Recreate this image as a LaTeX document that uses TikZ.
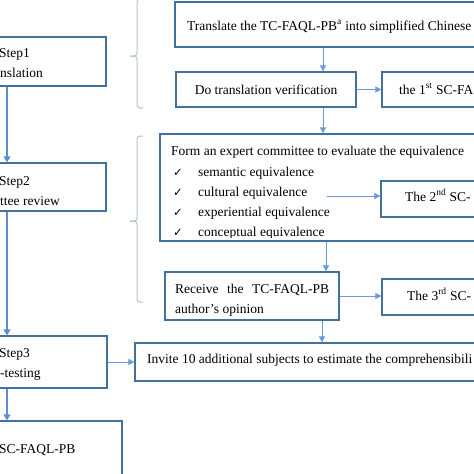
\documentclass[tikz,border=0pt]{standalone}
\usepackage{fontspec}
\setmainfont{Liberation Serif}
\newfontfamily\symfnt{DejaVu Sans}
\usetikzlibrary{arrows.meta}
\definecolor{boxc}{HTML}{41719C}
\definecolor{arrc}{HTML}{5B8FD0}
\definecolor{arrs}{HTML}{6A9BD6}
\definecolor{bracec}{HTML}{B4C3D4}
\begin{document}
\begin{tikzpicture}[x=1pt,y=-1pt,
  box/.style={draw=boxc,line width=1.3pt,rectangle,inner sep=0pt,fill=white},
  txt/.style={inner sep=0pt,anchor=base west,font=\fontsize{13.5}{16}\selectfont},
  ctxt/.style={inner sep=0pt,anchor=base,font=\fontsize{13.5}{16}\selectfont},
  chk/.style={inner sep=0pt,anchor=base west,font=\symfnt\fontsize{11.5}{12}\selectfont},
  bigarrow/.style={draw=arrc,line width=1.8pt,-{Triangle[width=7pt,length=6pt]}},
  smallarrow/.style={draw=arrs,line width=1pt,-{Triangle[width=6pt,length=6pt]}},
  bracket/.style={draw=bracec,line width=1pt,rounded corners=3pt}]
\useasboundingbox (0,0) rectangle (474,474);
\clip (0,0) rectangle (474,474);
\fill[white] (0,0) rectangle (474,474);

% left column boxes
\node[box,minimum width=186pt,minimum height=49pt] (step1) at (13,61.5) {};
\node[box,minimum width=186pt,minimum height=48pt] (step2) at (13,187) {};
\node[box,minimum width=187pt,minimum height=52pt] (step3) at (13.5,362) {};
\node[box,minimum width=202pt,minimum height=89pt] (final) at (21,465.5) {};

\node[txt] (s1a) at (-1,57) {Step1};
\node[txt] (s1b) at (0,77) {nslation};
\node[txt] (s2a) at (-1,185) {Step2};
\node[txt] (s2b) at (0,205) {ttee review};
\node[txt] (s3a) at (-1,357) {Step3};
\node[txt] (s3b) at (0,377) {-testing};
\node[txt] (fin) at (-1,453) {SC-FAQL-PB};

% right column boxes
\node[box,minimum width=345pt,minimum height=45pt] (trans) at (347.5,24.5) {};
\node[box,minimum width=180pt,minimum height=35pt] (dtv) at (266,89.5) {};
\node[box,minimum width=138pt,minimum height=35pt] (first) at (451,89.5) {};
\node[box,minimum width=360pt,minimum height=107pt] (expert) at (340,187.5) {};
\node[box,minimum width=139pt,minimum height=36pt] (second) at (450.5,199) {};
\node[box,minimum width=174pt,minimum height=48pt] (receive) at (252,296) {};
\node[box,minimum width=138pt,minimum height=36pt] (third) at (451,297) {};
\node[box,minimum width=385pt,minimum height=38pt] (invite) at (327.5,362) {};

\node[txt] (ttrans) at (187,30) {Translate the TC-FAQL-PB\textsuperscript{a} into simplified Chinese};
\node[ctxt] (tdtv) at (266,94) {Do translation verification};
\node[txt] (tfirst) at (399,94) {the 1\textsuperscript{st} SC-FA};
\node[txt] (texp) at (171,155.5) {Form an expert committee to evaluate the equivalence};
\node[chk] (c1) at (173,176) {✓};
\node[chk] (c2) at (173,196) {✓};
\node[chk] (c3) at (173,216) {✓};
\node[chk] (c4) at (173,236) {✓};
\node[txt] (e1) at (198,176) {semantic equivalence};
\node[txt] (e2) at (198,196) {cultural equivalence};
\node[txt] (e3) at (198,216) {experiential equivalence};
\begin{scope}
\clip (160,200) rectangle (380,237);
\node[txt] (e4) at (198,236.5) {conceptual equivalence};
\end{scope}
\node[txt] (tsecond) at (405,201) {The 2\textsuperscript{nd} SC-};
\node[txt] (trec1) at (175,293) {\makebox[154pt][s]{Receive the TC-FAQL-PB}};
\node[txt] (trec2) at (175,313) {author’s opinion};
\node[txt] (tthird) at (407,300) {The 3\textsuperscript{rd} SC-};
\node[txt] (tinv) at (147,363.5) {Invite 10 additional subjects to estimate the comprehensibili};

% brackets
\draw[bracket] (143,-1) -- (137,-1) -- (137,56) -- (130,56);
\draw[bracket] (130,56) -- (137,56) -- (137,108) -- (143,108);
\draw[bracket] (143,136) -- (137,136) -- (137,221) -- (130,221);
\draw[bracket] (130,221) -- (137,221) -- (137,302) -- (143,302);

% main arrows
\coordinate (mx) at (7,0);
\draw[bigarrow] (step1.south -| mx) -- (step2.north -| mx);
\draw[bigarrow] (step2.south -| mx) -- (step3.north -| mx);
\draw[bigarrow] (step3.south -| mx) -- (final.north -| mx);

% small arrows
\coordinate (ax1) at (323,0);
\coordinate (ax2) at (326,0);
\coordinate (ax3) at (322,0);
\coordinate (src2) at (327,196);
\draw[smallarrow] (trans.south -| ax1) -- (dtv.north -| ax1);
\draw[smallarrow] (dtv.east) -- (first.west);
\draw[smallarrow] (dtv.south -| ax1) -- (expert.north -| ax1);
\draw[smallarrow] (src2) -- (second.west |- src2);
\draw[smallarrow] (expert.south -| ax2) -- (receive.north -| ax2);
\draw[smallarrow] (receive.east) -- (receive.east -| third.west);
\draw[smallarrow] (receive.south -| ax3) -- (invite.north -| ax3);
\draw[smallarrow] (step3.east) -- (step3.east -| invite.west);
\end{tikzpicture}
\end{document}
